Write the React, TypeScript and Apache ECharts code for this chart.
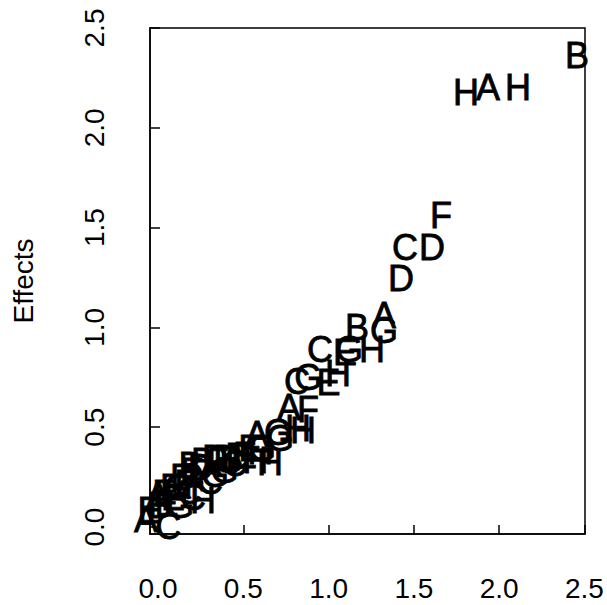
import React, { useEffect, useRef } from "react";
import * as echarts from "echarts";

const labels = [
  "B", "H", "A", "H", "F", "C", "D", "D", "A", "G",
  "B", "H", "G", "E", "C", "C", "G", "E", "H", "A",
  "F", "H", "G", "A", "G", "H", "D", "D", "H", "H",
  "E", "D", "B", "D", "E", "G", "C", "F", "C", "H",
  "E", "A", "A", "C", "G", "C", "B", "E", "G", "F",
  "B", "G", "E", "E", "D", "F", "B", "C", "G", "E",
  "H",
];
const xValues = [
  2.456, 1.805, 1.934, 2.11, 1.659, 1.448, 1.606, 1.424, 1.325, 1.325,
  1.166, 1.254, 1.12, 1.096, 0.95, 0.815, 0.88, 1.0, 1.055, 0.768,
  0.879, 0.85, 0.703, 0.58, 0.715, 0.82, 0.4, 0.47, 0.57, 0.656,
  0.51, 0.334, 0.264, 0.147, 0.082, 0.334, 0.305, 0.03, 0.205, 0.264,
  0.088, 0.0, -0.07, 0.06, 0.39, 0.45, 0.19, 0.54, 0.61, 0.16,
  0.01, 0.13, -0.05, 0.2, 0.25, 0.35, 0.43, 0.18, 0.12, 0.05,
  0.6,
];
const yValues = [
  2.36, 2.175, 2.2, 2.2, 1.56, 1.4, 1.4, 1.245, 1.06, 0.985,
  1.0, 0.89, 0.89, 0.875, 0.89, 0.73, 0.75, 0.725, 0.77, 0.6,
  0.59, 0.485, 0.475, 0.465, 0.445, 0.495, 0.345, 0.355, 0.335, 0.325,
  0.36, 0.345, 0.33, 0.25, 0.2, 0.265, 0.23, 0.17, 0.15, 0.135,
  0.15, 0.16, 0.04, 0.005, 0.285, 0.32, 0.31, 0.395, 0.395, 0.22,
  0.11, 0.11, 0.085, 0.28, 0.3, 0.33, 0.34, 0.18, 0.2, 0.12,
  0.38,
];
const tickValues = [0, 0.5, 1.0, 1.5, 2.0, 2.5];
const yTitle = "Effects";

const FONT = "'Liberation Sans', Arial, Helvetica, sans-serif";

export default function App() {
  const ref = useRef<HTMLDivElement>(null);
  useEffect(() => {
    if (!ref.current) return;
    const chart = echarts.init(ref.current, null, { renderer: "svg" });
    const data = labels.map((l, i) => ({ name: l, value: [xValues[i], yValues[i]] }));
    chart.setOption({
      animation: false,
      backgroundColor: "#ffffff",
      grid: {
        left: 150,
        right: 22,
        top: 28,
        bottom: 71,
        show: true,
        borderColor: "#000",
        borderWidth: 1.5,
        containLabel: false,
      },
      xAxis: {
        type: "value",
        min: -0.047,
        max: 2.503,
        splitLine: { show: false },
        axisLine: { show: true, onZero: false, lineStyle: { color: "#000", width: 1.5 } },
        axisTick: {
          show: true,
          inside: true,
          length: 9,
          customValues: tickValues,
          lineStyle: { color: "#000", width: 1.5 },
        },
        axisLabel: {
          show: true,
          customValues: tickValues,
          margin: 40,
          color: "#000",
          fontSize: 28,
          fontFamily: FONT,
          formatter: (v: number) => v.toFixed(1),
        },
      },
      yAxis: {
        type: "value",
        min: -0.035,
        max: 2.5,
        name: yTitle,
        nameLocation: "middle",
        nameRotate: 90,
        nameGap: 113,
        nameTextStyle: { color: "#000", fontSize: 28, fontFamily: FONT },
        splitLine: { show: false },
        axisLine: { show: true, onZero: false, lineStyle: { color: "#000", width: 1.5 } },
        axisTick: {
          show: true,
          inside: true,
          length: 10,
          customValues: tickValues,
          lineStyle: { color: "#000", width: 1.5 },
        },
        axisLabel: {
          show: true,
          customValues: tickValues,
          rotate: 90,
          margin: 42,
          color: "#000",
          fontSize: 28,
          fontFamily: FONT,
          formatter: (v: number) => v.toFixed(1),
        },
      },
      series: [
        {
          type: "scatter",
          symbolSize: 0,
          data,
          clip: false,
          itemStyle: { color: "#000", opacity: 1 },
          label: {
            show: true,
            position: "inside",
            formatter: (p: any) => p.name,
            color: "#000",
            opacity: 1,
            fontSize: 36,
            fontFamily: FONT,
            textBorderColor: "#000",
            textBorderWidth: 0.8,
          },
          emphasis: { disabled: true },
        },
      ],
    });
    return () => chart.dispose();
  }, []);
  return (
    <div
      ref={ref}
      style={{ position: "absolute", left: 0, top: 0, width: 607, height: 605 }}
    />
  );
}
